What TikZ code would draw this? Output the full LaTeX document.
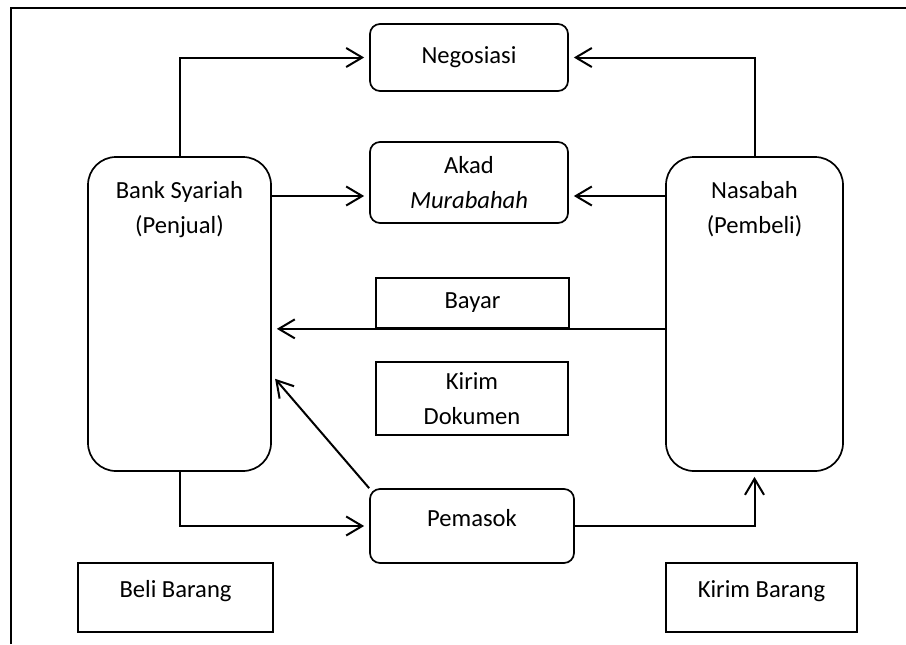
\documentclass[tikz,border=0pt]{standalone}
\usepackage{fontspec}
\setmainfont{Carlito}
\usetikzlibrary{arrows.meta}
\tikzstyle{every node}=[font=\fontsize{12.3}{17.5}\selectfont,align=center,inner sep=0pt]
\tikzstyle{rbox}=[draw,rounded corners=5pt,line width=0.85pt]
\tikzstyle{sbox}=[draw,line width=0.85pt]
\tikzstyle{big}=[draw,rounded corners=14pt,line width=0.85pt,minimum height=157pt]
\tikzstyle{basemid}=[text height=1ex,text depth=1ex]
\tikzstyle{link}=[line width=1pt,-{Straight Barb[length=8pt,width=9.5pt]},shorten >=2.5pt]

\begin{document}
\begin{tikzpicture}[x=0.5pt,y=-0.5pt]
\useasboundingbox (0,0) rectangle (906,644);
\draw[line width=1.2pt] (11,644) -- (11,8) -- (906,8);

\node[rbox,minimum width=99pt,minimum height=33.5pt] (nego) at (469,57.5) {Negosiasi};
\node[rbox,minimum width=99pt,minimum height=40.5pt] (akad) at (469,182.5) {Akad\\\textit{Murabahah}};
\node[big,minimum width=91.5pt,label={[name=banktxt,anchor=north,yshift=-12.5pt]north:Bank Syariah\\(Penjual)}] (bank) at (179.5,314) {};
\node[big,minimum width=88.5pt,label={[name=nasabahtxt,anchor=north,yshift=-12.5pt]north:Nasabah\\(Pembeli)}] (nasabah) at (754.5,314) {};
\node[sbox,minimum width=96.5pt,minimum height=25pt] (bayar) at (472.5,303) {Bayar};
\node[sbox,minimum width=96pt,minimum height=36.5pt] (dok) at (472,398.5) {Kirim\\Dokumen};
\node[rbox,basemid,minimum width=102pt,minimum height=37pt] (pemasok) at (472,526) {Pemasok};
\node[sbox,basemid,minimum width=97.5pt,minimum height=34.5pt] (beli) at (175.5,597.5) {Beli Barang};
\node[sbox,basemid,minimum width=95.5pt,minimum height=34.5pt] (kirim) at (761.5,597.5) {Kirim Barang};

\coordinate (akadl) at ([yshift=-6.75pt]akad.west);
\coordinate (akadr) at ([yshift=-6.75pt]akad.east);
\coordinate (bankin) at ([yshift=-30.5pt]bank.east);

\draw[link] (bank.north) |- (nego.west);
\draw[link] (nasabah.north) |- (nego.east);
\draw[link] (bank.east |- akadl) -- (akadl);
\draw[link] (nasabah.west |- akadr) -- (akadr);
\draw[link] (nasabah.west |- bayar.south) -- (bank.east |- bayar.south);
\draw[link] (pemasok.north west) -- (bankin);
\draw[link] (bank.south) |- (pemasok.west);
\draw[link] (pemasok.east) -| (nasabah.south);
\end{tikzpicture}
\end{document}
